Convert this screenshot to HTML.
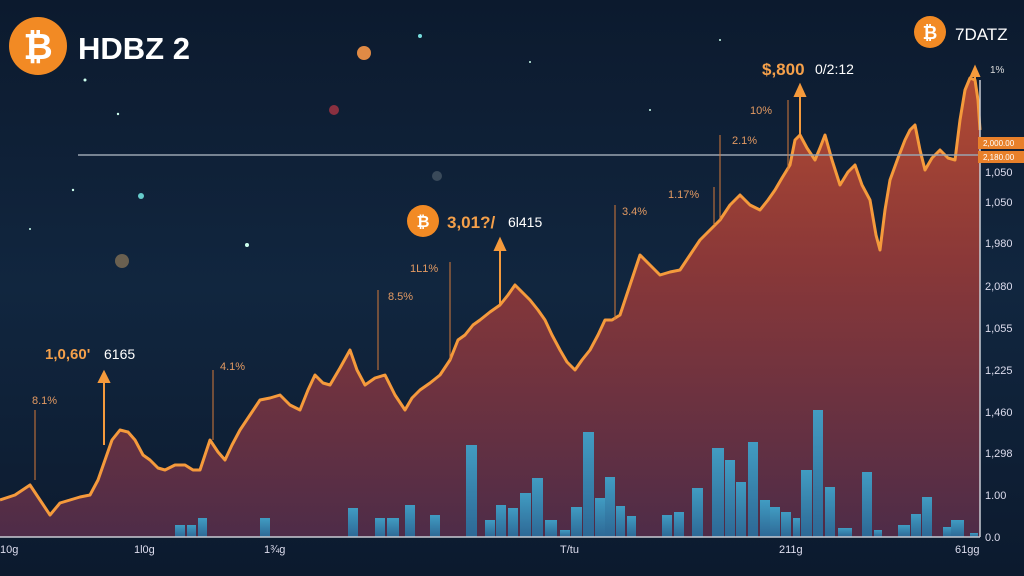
<!DOCTYPE html>
<html><head><meta charset="utf-8"><style>
html,body{margin:0;padding:0;width:1024px;height:576px;overflow:hidden;background:#0e1d33}
svg{display:block}
text{font-family:"Liberation Sans",sans-serif}
</style></head><body>
<svg width="1024" height="576" viewBox="0 0 1024 576" xmlns="http://www.w3.org/2000/svg">
<defs>
<linearGradient id="bg" x1="0" y1="0" x2="0" y2="1">
<stop offset="0" stop-color="#0c1a2e"/><stop offset="0.5" stop-color="#11263f"/><stop offset="1" stop-color="#0c1a2e"/>
</linearGradient>
<linearGradient id="ar" x1="0" y1="0" x2="0" y2="1">
<stop offset="0" stop-color="#b24a32"/><stop offset="0.4" stop-color="#8a3838"/><stop offset="1" stop-color="#4e2c48"/>
</linearGradient>
<linearGradient id="bar" x1="0" y1="0" x2="0" y2="1">
<stop offset="0" stop-color="#3fa8d0"/><stop offset="1" stop-color="#2a6f9e"/>
</linearGradient>
</defs>
<rect width="1024" height="576" fill="url(#bg)"/>
<!-- stars -->
<g fill="#cfe">
<circle cx="85" cy="80" r="1.5"/><circle cx="118" cy="114" r="1.2"/><circle cx="420" cy="36" r="2" fill="#7dd"/><circle cx="141" cy="196" r="3" fill="#6cc"/><circle cx="247" cy="245" r="2"/><circle cx="73" cy="190" r="1.2"/><circle cx="30" cy="229" r="1"/><circle cx="530" cy="62" r="1"/><circle cx="720" cy="40" r="1"/><circle cx="650" cy="110" r="1"/>
</g>
<circle cx="364" cy="53" r="7" fill="#e08a45"/>
<circle cx="334" cy="110" r="5" fill="#8a3040"/>
<circle cx="122" cy="261" r="7" fill="#6a6050"/>
<circle cx="437" cy="176" r="5" fill="#3a4a5a"/>
<!-- area -->
<path id="ln" d="M0,500 L15,495 30,485 40,500 50,515 60,503 70,500 80,497 90,495 98,480 105,460 112,440 120,430 128,432 135,440 143,455 150,460 158,468 165,470 175,465 185,465 193,470 200,470 205,455 210,440 218,452 225,460 232,445 240,430 250,415 260,400 270,398 280,395 290,405 300,410 308,390 315,375 323,383 330,385 340,368 350,350 357,370 365,385 375,378 385,375 395,395 405,410 412,398 420,390 430,383 440,375 450,360 458,340 465,335 473,325 480,320 490,312 500,305 508,295 515,285 522,292 530,300 538,310 545,320 552,335 560,350 567,362 575,370 582,360 590,350 598,335 605,320 612,320 620,315 630,285 640,255 650,265 660,275 670,272 680,270 690,255 700,240 710,230 720,220 730,205 740,195 750,205 760,210 768,200 775,190 782,178 790,165 795,140 800,135 807,148 815,160 820,148 825,135 832,160 840,185 848,172 855,165 862,185 870,200 876,235 880,250 885,210 890,180 898,158 905,140 910,130 915,125 920,150 925,170 932,158 940,150 948,158 955,160 960,120 965,90 970,78 975,80 978,100 980,130"
 fill="none"/>
<path d="M0,500 L15,495 30,485 40,500 50,515 60,503 70,500 80,497 90,495 98,480 105,460 112,440 120,430 128,432 135,440 143,455 150,460 158,468 165,470 175,465 185,465 193,470 200,470 205,455 210,440 218,452 225,460 232,445 240,430 250,415 260,400 270,398 280,395 290,405 300,410 308,390 315,375 323,383 330,385 340,368 350,350 357,370 365,385 375,378 385,375 395,395 405,410 412,398 420,390 430,383 440,375 450,360 458,340 465,335 473,325 480,320 490,312 500,305 508,295 515,285 522,292 530,300 538,310 545,320 552,335 560,350 567,362 575,370 582,360 590,350 598,335 605,320 612,320 620,315 630,285 640,255 650,265 660,275 670,272 680,270 690,255 700,240 710,230 720,220 730,205 740,195 750,205 760,210 768,200 775,190 782,178 790,165 795,140 800,135 807,148 815,160 820,148 825,135 832,160 840,185 848,172 855,165 862,185 870,200 876,235 880,250 885,210 890,180 898,158 905,140 910,130 915,125 920,150 925,170 932,158 940,150 948,158 955,160 960,120 965,90 970,78 975,80 978,100 980,130 L980,537 L0,537 Z" fill="url(#ar)"/>
<!-- bars -->
<g fill="url(#bar)" opacity="0.9">
<rect x="175" y="525" width="10" height="12"/><rect x="187" y="525" width="9" height="12"/><rect x="198" y="518" width="9" height="19"/><rect x="260" y="518" width="10" height="19"/><rect x="348" y="508" width="10" height="29"/><rect x="375" y="518" width="10" height="19"/><rect x="387" y="518" width="12" height="19"/><rect x="405" y="505" width="10" height="32"/><rect x="430" y="515" width="10" height="22"/><rect x="466" y="445" width="11" height="92"/><rect x="485" y="520" width="10" height="17"/><rect x="496" y="505" width="10" height="32"/><rect x="508" y="508" width="10" height="29"/><rect x="520" y="493" width="11" height="44"/><rect x="532" y="478" width="11" height="59"/><rect x="545" y="520" width="12" height="17"/><rect x="560" y="530" width="10" height="7"/><rect x="571" y="507" width="11" height="30"/><rect x="583" y="432" width="11" height="105"/><rect x="595" y="498" width="10" height="39"/><rect x="605" y="477" width="10" height="60"/><rect x="616" y="506" width="9" height="31"/><rect x="627" y="516" width="9" height="21"/><rect x="662" y="515" width="10" height="22"/><rect x="674" y="512" width="10" height="25"/><rect x="692" y="488" width="11" height="49"/><rect x="712" y="448" width="12" height="89"/><rect x="725" y="460" width="10" height="77"/><rect x="736" y="482" width="10" height="55"/><rect x="748" y="442" width="10" height="95"/><rect x="760" y="500" width="10" height="37"/><rect x="770" y="507" width="10" height="30"/><rect x="781" y="512" width="10" height="25"/><rect x="793" y="518" width="7" height="19"/><rect x="801" y="470" width="11" height="67"/><rect x="813" y="410" width="10" height="127"/><rect x="825" y="487" width="10" height="50"/><rect x="838" y="528" width="14" height="9"/><rect x="862" y="472" width="10" height="65"/><rect x="874" y="530" width="8" height="7"/><rect x="898" y="525" width="12" height="12"/><rect x="911" y="514" width="10" height="23"/><rect x="922" y="497" width="10" height="40"/><rect x="943" y="527" width="8" height="10"/><rect x="951" y="520" width="13" height="17"/><rect x="970" y="533" width="8" height="4"/>
</g>
<use href="#ln" stroke="#f59a3c" stroke-width="3" stroke-linejoin="round"/>
<!-- reference line -->
<line x1="78" y1="155" x2="980" y2="155" stroke="#9aa4b0" stroke-width="1.5"/>
<!-- annotation lines -->
<g stroke="#d57a3a" stroke-width="1">
<line x1="35" y1="410" x2="35" y2="480"/><line x1="213" y1="370" x2="213" y2="440"/><line x1="378" y1="290" x2="378" y2="370"/><line x1="450" y1="262" x2="450" y2="360"/><line x1="615" y1="205" x2="615" y2="320"/><line x1="720" y1="135" x2="720" y2="220"/><line x1="788" y1="100" x2="788" y2="170"/><line x1="714" y1="187" x2="714" y2="225"/>
</g>
<g stroke="#f59a3c" stroke-width="2" fill="#f59a3c">
<line x1="104" y1="378" x2="104" y2="445"/><polygon points="99,382 104,372 109,382"/>
<line x1="500" y1="245" x2="500" y2="305"/><polygon points="495,250 500,239 505,250"/>
<line x1="800" y1="92" x2="800" y2="135"/><polygon points="795,96 800,85 805,96"/>
<line x1="975" y1="72" x2="975" y2="80"/><polygon points="971,76 975,67 979,76"/>
</g>
<g fill="#e39a62" font-size="11">
<text x="32" y="404">8.1%</text><text x="220" y="370">4.1%</text><text x="388" y="300">8.5%</text><text x="410" y="272">1L1%</text><text x="622" y="215">3.4%</text><text x="668" y="198">1.17%</text><text x="732" y="144">2.1%</text><text x="750" y="114">10%</text><text x="990" y="73" fill="#ddd" font-size="10">1%</text>
</g>
<!-- callouts -->
<text x="45" y="359" fill="#f5a04a" font-size="15" font-weight="bold">1,0,60'</text><text x="104" y="359" fill="#fff" font-size="14">6165</text>
<circle cx="423" cy="221" r="16" fill="#f28a24"/><text x="423" y="227" fill="#fff" font-size="16" font-weight="bold" text-anchor="middle">₿</text>
<text x="447" y="228" fill="#f5a04a" font-size="17" font-weight="bold">3,01?/</text><text x="508" y="227" fill="#fff" font-size="14">6l415</text>
<text x="762" y="75" fill="#f5a04a" font-size="17" font-weight="bold">$,800</text><text x="815" y="74" fill="#fff" font-size="14">0/2:12</text>
<!-- title -->
<circle cx="38" cy="46" r="29" fill="#f28a24"/><text x="38" y="59" fill="#fff" font-size="36" font-weight="bold" text-anchor="middle">₿</text>
<text x="78" y="59" fill="#fff" font-size="31" font-weight="bold">HDBZ 2</text>
<circle cx="930" cy="32" r="16" fill="#f28a24"/><text x="930" y="39" fill="#fff" font-size="18" font-weight="bold" text-anchor="middle">₿</text>
<text x="955" y="40" fill="#fff" font-size="17">7DATZ</text>
<!-- axes -->
<line x1="980" y1="80" x2="980" y2="537" stroke="#c8ccd4" stroke-width="1.5"/>
<line x1="0" y1="537" x2="980" y2="537" stroke="#c8ccd4" stroke-width="1.5"/>
<rect x="978" y="137" width="46" height="12" fill="#e8802a"/><rect x="978" y="151" width="46" height="12" fill="#e8802a"/>
<text x="983" y="146" fill="#fff" font-size="8">2,000.00</text><text x="983" y="160" fill="#fff" font-size="8">2,180.00</text>
<g fill="#dde" font-size="11">
<text x="985" y="176">1,050</text><text x="985" y="206">1,050</text><text x="985" y="247">1,980</text><text x="985" y="290">2,080</text><text x="985" y="332">1,055</text><text x="985" y="374">1,225</text><text x="985" y="416">1,460</text><text x="985" y="457">1,298</text><text x="985" y="499">1.00</text><text x="985" y="541">0.0</text>
<text x="0" y="553">10g</text><text x="134" y="553">1l0g</text><text x="264" y="553">1¾g</text><text x="560" y="553">T/tu</text><text x="779" y="553">211g</text><text x="955" y="553">61gg</text>
</g>
</svg>
</body></html>
